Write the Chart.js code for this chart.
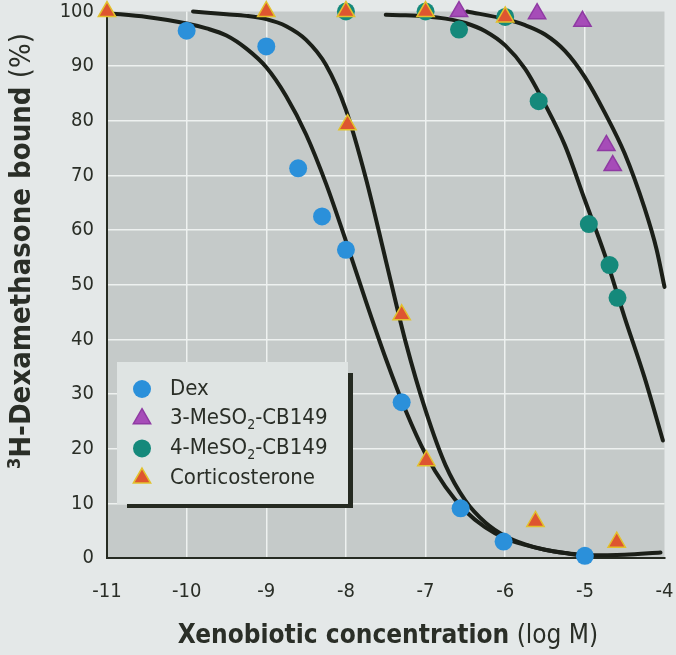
<!DOCTYPE html>
<html>
<head>
<meta charset="utf-8">
<script src="https://cdn.jsdelivr.net/npm/chart.js@4.4.1/dist/chart.umd.min.js"></script>
<style>
  body { margin: 0; background: #e4e8e8; }
  canvas { display: block; }
</style>
</head>
<body>
<canvas id="chart" width="676" height="655"></canvas>
<script>
// measured points (log M, % bound)
var logDex = [-10, -9, -8.6, -8.3, -8, -7.3, -6.56, -6.02, -5];
var boundDex = [96.5, 93.6, 71.3, 62.5, 56.4, 28.5, 9.1, 3, 0.4];
var log3Me = [-6.58, -5.6, -5.03, -4.73, -4.65];
var bound3Me = [100, 99.6, 98.2, 75.5, 71.8];
var log4Me = [-8, -7, -6.58, -6, -5.58, -4.95, -4.69, -4.59];
var bound4Me = [100, 100, 96.7, 99, 83.6, 61.1, 53.6, 47.6];
var logCort = [-11, -9, -8, -7.98, -7.3, -7, -6.99, -6, -5.62, -4.6];
var boundCort = [100, 100, 100, 79.3, 44.5, 100, 17.8, 99, 6.7, 2.9];

// fitted curves
var fitDexX = [-11, -10.5, -10, -9.75, -9.5, -9.25, -9, -8.75, -8.5, -8.25, -8, -7.75, -7.5, -7.25, -7, -6.75, -6.5, -6.25, -6, -5.75, -5.5, -5.25, -5, -4.5, -4.05];
var fitDexY = [99.7, 99, 97.8, 96.9, 95.6, 93.2, 89.8, 84.5, 77.5, 68.5, 58, 47, 36.5, 27, 19, 13, 8.6, 5.6, 3.6, 2.4, 1.5, 0.9, 0.5, 0.6, 1.0];
var fitCortX = [-9.92, -9.5, -9.25, -9, -8.75, -8.5, -8.25, -8, -7.75, -7.5, -7.25, -7, -6.75, -6.5, -6.25, -6, -5.75, -5.5, -5.25, -5];
var fitCortY = [100, 99.5, 99.2, 98.6, 97.3, 94.8, 90.2, 82, 69.5, 54.5, 39.5, 27, 17, 10.5, 6.5, 4, 2.5, 1.5, 0.9, 0.5];
var fit4MeX = [-7.5, -7.25, -7, -6.75, -6.5, -6.25, -6, -5.75, -5.5, -5.25, -5, -4.75, -4.5, -4.25, -4.02];
var fit4MeY = [99.4, 99.3, 99.1, 98.7, 97.9, 96.4, 93.8, 89.5, 83, 75.5, 65.5, 55.5, 44, 33, 21.5];
var fit3MeX = [-6.48, -6, -5.75, -5.5, -5.25, -5, -4.75, -4.5, -4.25, -4.1, -4];
var fit3MeY = [100, 98.6, 97.5, 95.8, 92.8, 88, 81.5, 74, 64, 56.5, 49.6];

var xTicks = [-11, -10, -9, -8, -7, -6, -5, -4];
var yTicks = [0, 10, 20, 30, 40, 50, 60, 70, 80, 90, 100];

var fontFam = "'Liberation Sans Narrow', 'DejaVu Sans Condensed', sans-serif";
var ink = '#2a2e27';

function pts(xs, ys) {
    return xs.map(function (x, i) { return {x: x, y: ys[i]}; });
}

function marker(name, xs, ys, style, fill, border, order) {
    return {
        type: 'scatter', label: name, data: pts(xs, ys), order: order,
        pointStyle: style, pointRadius: style == 'circle' ? 9 : 10,
        backgroundColor: fill, borderColor: border,
        borderWidth: style == 'circle' ? 0 : 1.5, clip: false
    };
}

function curve(xs, ys) {
    return {
        type: 'line', data: pts(xs, ys), order: 10,
        borderColor: '#1b1f18', borderWidth: 4, pointRadius: 0,
        cubicInterpolationMode: 'monotone', fill: false,
        borderCapStyle: 'round', clip: false
    };
}

function drawMarker(ctx, style, r, x, y, fill, border, bw) {
    ctx.beginPath();
    if (style == 'circle') {
        ctx.arc(x, y, r, 0, Math.PI * 2);
    } else {
        ctx.moveTo(x, y - r);
        ctx.lineTo(x + r * 0.866, y + r / 2);
        ctx.lineTo(x - r * 0.866, y + r / 2);
        ctx.closePath();
    }
    ctx.fillStyle = fill;
    ctx.fill();
    if (bw) { ctx.lineWidth = bw; ctx.strokeStyle = border; ctx.stroke(); }
}

// grey plot area
var backPlugin = {
    id: 'back',
    beforeDraw: function (chart) {
        var ctx = chart.ctx, a = chart.chartArea;
        ctx.save();
        ctx.fillStyle = '#e4e8e8';
        ctx.fillRect(0, 0, chart.width, chart.height);
        ctx.fillStyle = '#c5cac9';
        ctx.fillRect(a.left, a.top, a.right - a.left, a.bottom - a.top);
        ctx.restore();
    }
};

// legend box with shadow + axis titles
var textPlugin = {
    id: 'texts',
    afterDraw: function (chart) {
        var ctx = chart.ctx;
        ctx.save();
        ctx.fillStyle = '#252a21';
        ctx.fillRect(127, 373, 226, 135);
        ctx.fillStyle = '#dfe4e3';
        ctx.fillRect(117, 362, 231, 142);

        ctx.textBaseline = 'middle';
        for (var i = 0; i < 4; i++) {
            var ds = chart.data.datasets[i];
            var y = 389 + i * 29.7;
            drawMarker(ctx, ds.pointStyle, ds.pointStyle == 'circle' ? 9 : 10, 142, y,
                ds.backgroundColor, ds.borderColor, ds.borderWidth);
            var parts = ds.label.split('\u2082');
            ctx.fillStyle = ink;
            ctx.font = '22px ' + fontFam;
            ctx.fillText(parts[0], 170, y);
            if (parts.length > 1) {
                var w0 = ctx.measureText(parts[0]).width;
                ctx.font = '14px ' + fontFam;
                ctx.fillText('2', 170 + w0, y + 7);
                var ws = ctx.measureText('2').width;
                ctx.font = '22px ' + fontFam;
                ctx.fillText(parts[1], 170 + w0 + ws, y);
            }
        }

        // x title
        ctx.fillStyle = ink;
        var bold = 'bold 26px ' + fontFam, reg = '26px ' + fontFam;
        ctx.font = bold;
        var w1 = ctx.measureText('Xenobiotic concentration').width;
        ctx.font = reg;
        var w2 = ctx.measureText(' (log M)').width;
        var x0 = 388 - (w1 + w2) / 2;
        ctx.font = bold;
        ctx.fillText('Xenobiotic concentration', x0, 636);
        ctx.font = reg;
        ctx.fillText(' (log M)', x0 + w1, 636);

        // y title
        bold = 'bold 29px ' + fontFam;
        reg = '29px ' + fontFam;
        ctx.translate(22, 251);
        ctx.rotate(-Math.PI / 2);
        ctx.font = 'bold 18px ' + fontFam;
        var s = ctx.measureText('3').width;
        ctx.font = bold;
        var b = ctx.measureText('H-Dexamethasone bound').width;
        ctx.font = reg;
        var p = ctx.measureText(' (%)').width;
        var start = -(s + b + p) / 2;
        ctx.font = 'bold 18px ' + fontFam;
        ctx.fillText('3', start, -7);
        ctx.font = bold;
        ctx.fillText('H-Dexamethasone bound', start + s, 0);
        ctx.font = reg;
        ctx.fillText(' (%)', start + s + b, 0);
        ctx.restore();
    }
};

new Chart(document.getElementById('chart'), {
    data: {
        datasets: [
            marker('Dex', logDex, boundDex, 'circle', '#2b90da', '#2b90da', 1),
            marker('3-MeSO\u2082-CB149', log3Me, bound3Me, 'triangle', '#a64cb8', '#8f3aa3', 2),
            marker('4-MeSO\u2082-CB149', log4Me, bound4Me, 'circle', '#15897b', '#15897b', 4),
            marker('Corticosterone', logCort, boundCort, 'triangle', '#de5530', '#e2c12c', 3),
            curve(fitDexX, fitDexY),
            curve(fitCortX, fitCortY),
            curve(fit4MeX, fit4MeY),
            curve(fit3MeX, fit3MeY)
        ]
    },
    options: {
        responsive: false,
        devicePixelRatio: 1,
        animation: false,
        events: [],
        layout: { padding: { top: 9, right: 11, left: 0, bottom: 0 } },
        plugins: { legend: { display: false }, tooltip: { enabled: false } },
        scales: {
            x: {
                type: 'linear', min: -11, max: -4,
                afterBuildTicks: function (s) { s.ticks = xTicks.map(function (v) { return {value: v}; }); },
                afterFit: function (s) { s.height = 97; s.paddingLeft = 0; s.paddingRight = 0; },
                ticks: { color: ink, padding: 22, font: { family: fontFam, size: 20 } },
                grid: {
                    drawTicks: false, lineWidth: 1.5,
                    color: function (c) { return c.tick && (c.tick.value == -4 || c.tick.value == -11) ? 'rgba(0,0,0,0)' : '#eef1f0'; }
                },
                border: { display: true, color: '#262b22', width: 2 }
            },
            y: {
                type: 'linear', min: 0, max: 100,
                afterBuildTicks: function (s) { s.ticks = yTicks.map(function (v) { return {value: v}; }); },
                afterFit: function (s) { s.width = 107; s.paddingTop = 0; s.paddingBottom = 0; },
                ticks: { color: ink, padding: 13, font: { family: fontFam, size: 20 } },
                grid: {
                    drawTicks: false, lineWidth: 1.5,
                    color: function (c) { return c.tick && (c.tick.value == 100 || c.tick.value == 0) ? 'rgba(0,0,0,0)' : '#eef1f0'; }
                },
                border: { display: true, color: '#262b22', width: 2 }
            }
        }
    },
    plugins: [backPlugin, textPlugin]
});
</script>
</body>
</html>
